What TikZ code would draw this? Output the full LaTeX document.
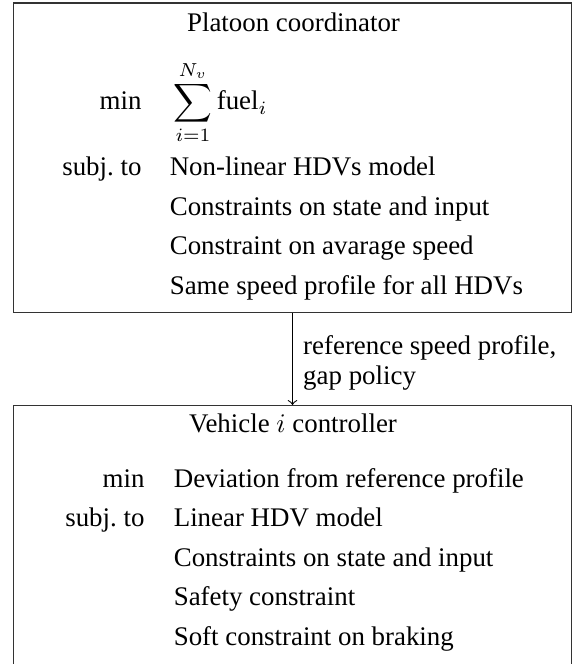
\documentclass[tikz,border=0pt]{standalone}
\usepackage{amsmath}
\usepackage{fontspec}
\setmainfont{Liberation Serif}
\usetikzlibrary{fit}
\begin{document}
\begin{tikzpicture}[x=0.372pt,y=-0.372pt,
  boxstyle/.style={draw=black!80, line width=0.4pt, inner sep=0pt},
  lbl/.style={inner sep=0pt, anchor=base west, font=\fontsize{10}{12}\selectfont},
  rlbl/.style={inner sep=0pt, anchor=base east, font=\fontsize{10}{12}\selectfont},
  ttl/.style={inner sep=0pt, anchor=base, font=\fontsize{10}{12}\selectfont},
  flow/.style={->, line width=0.4pt}]
\clip (0,0) rectangle (582,664);
\fill[white] (0,0) rectangle (582,664);
% top box
\node[boxstyle, fit={(13.3,3) (571.7,312.7)}] (top) {};
\node[ttl] (toptitle) at (293.5,31.5) {Platoon coordinator};
\node[rlbl] (tmin) at (142,110) {$\min$};
\node[lbl] (tsum) at (173,110) {$\displaystyle\sum_{i=1}^{N_v}\text{fuel}_i$};
\node[rlbl] (tsubj) at (142,175) {subj.\ to};
\node[lbl] (t1) at (169.3,175) {Non-linear HDVs model};
\node[lbl] (t2) at (169.3,215) {Constraints on state and input};
\node[lbl] (t3) at (169.3,254.5) {Constraint on avarage speed};
\node[lbl] (t4) at (169.3,294) {Same speed profile for all HDVs};
% bottom box
\node[boxstyle, fit={(13.3,405.5) (571.7,700)}] (bot) {};
\node[ttl] (bottitle) at (293,432.7) {Vehicle $i$ controller};
\node[rlbl] (bmin) at (145,487.7) {$\min$};
\node[lbl] (b0) at (173.3,487.7) {Deviation from reference profile};
\node[rlbl] (bsubj) at (145,526.7) {subj.\ to};
\node[lbl] (b1) at (173.3,526.7) {Linear HDV model};
\node[lbl] (b2) at (173.3,566.3) {Constraints on state and input};
\node[lbl] (b3) at (173.3,605.5) {Safety constraint};
\node[lbl] (b4) at (173.3,645) {Soft constraint on braking};
% connector
\draw[flow] (top.south) -- (bot.north);
\node[lbl] (lab1) at (302.7,354.5) {reference speed profile,};
\node[lbl] (lab2) at (302.7,384) {gap policy};
\end{tikzpicture}
\end{document}
